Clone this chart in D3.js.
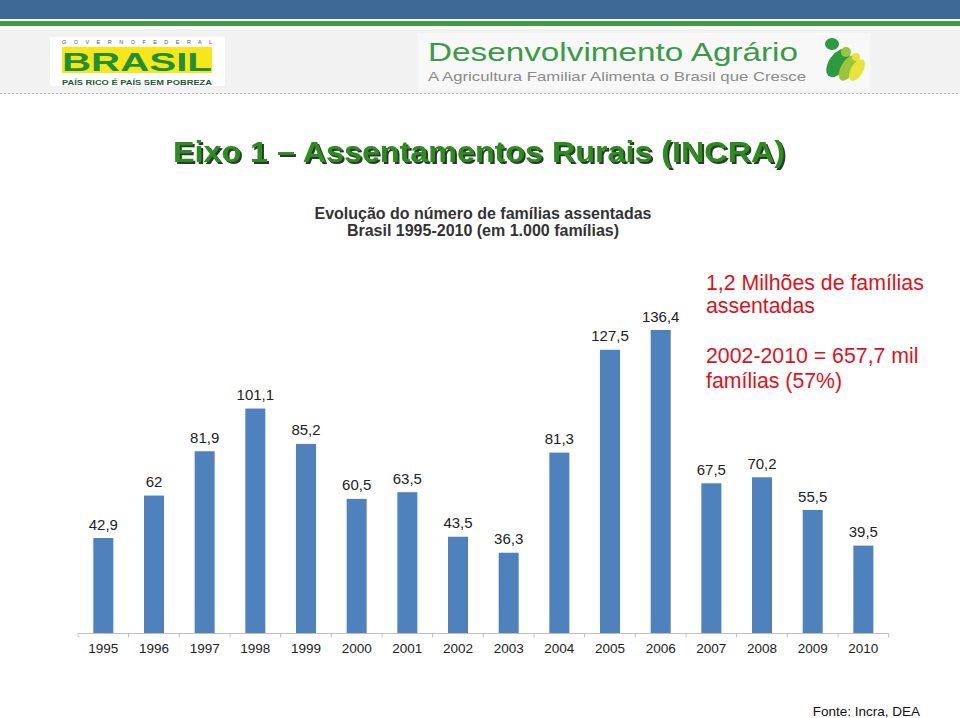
<!DOCTYPE html>
<html><head><meta charset="utf-8">
<script src="https://cdn.jsdelivr.net/npm/d3@7"></script>
<style>html,body{margin:0;padding:0;background:#fff;}svg{display:block;}</style>
</head><body>
<script>
const years = ["1995","1996","1997","1998","1999","2000","2001","2002","2003","2004","2005","2006","2007","2008","2009","2010"];
const values = [42.9,62,81.9,101.1,85.2,60.5,63.5,43.5,36.3,81.3,127.5,136.4,67.5,70.2,55.5,39.5];
const valueLabels = ["42,9","62","81,9","101,1","85,2","60,5","63,5","43,5","36,3","81,3","127,5","136,4","67,5","70,2","55,5","39,5"];
const titleText = "Eixo 1 – Assentamentos Rurais (INCRA)";
const subtitleLines = ["Evolução do número de famílias assentadas","Brasil 1995-2010 (em 1.000 famílias)"];
const noteLines = ["1,2 Milhões de famílias","assentadas","2002-2010 = 657,7 mil","famílias (57%)"];
const sourceText = "Fonte: Incra, DEA";

const W=960,H=718;
const svg=d3.select("body").append("svg").attr("width",W).attr("height",H);
const defs=svg.append("defs");
defs.append("filter").attr("id","sh").attr("x","-5%").attr("y","-20%").attr("width","110%").attr("height","140%")
 .append("feDropShadow").attr("dx",2).attr("dy",2).attr("stdDeviation",0.4).attr("flood-color","#1a2f1a").attr("flood-opacity",0.95);

// header
svg.append("rect").attr("x",0).attr("y",0).attr("width",W).attr("height",19).attr("fill","#3d6795");
svg.append("rect").attr("x",0).attr("y",21).attr("width",W).attr("height",5).attr("fill","#3f9a40");
svg.append("rect").attr("x",0).attr("y",29).attr("width",W).attr("height",64).attr("fill","#f2f2f2");
svg.append("line").attr("x1",0).attr("x2",W).attr("y1",93.5).attr("y2",93.5).attr("stroke","#bbb").attr("stroke-dasharray","2,2");

// left logo
const L=svg.append("g");
L.append("rect").attr("x",50).attr("y",37).attr("width",175).attr("height",49).attr("fill","#fff");
L.append("text").attr("x",62).attr("y",44).attr("font-family","Arial, Liberation Sans").attr("font-size",5.5).attr("fill","#555")
 .attr("textLength",150).attr("lengthAdjust","spacing").text("G O V E R N O     F E D E R A L");
L.append("rect").attr("x",62).attr("y",47).attr("width",150).attr("height",26).attr("fill","#f6e61a");
L.append("text").attr("x",62).attr("y",71).attr("font-family","Liberation Sans, Arial").attr("font-weight","bold").attr("font-size",25)
 .attr("fill","#1f8f3a").attr("textLength",150).attr("lengthAdjust","spacingAndGlyphs").text("BRASIL");
L.append("text").attr("x",62).attr("y",84.5).attr("font-family","Liberation Sans, Arial").attr("font-weight","bold").attr("font-size",7)
 .attr("fill","#1d5a3a").attr("textLength",150).attr("lengthAdjust","spacingAndGlyphs").text("PAÍS RICO É PAÍS SEM POBREZA");

// right logo
const R=svg.append("g");
R.append("rect").attr("x",418).attr("y",33).attr("width",452).attr("height",58).attr("fill","#f8f8f8");
R.append("text").attr("x",428).attr("y",61).attr("font-family","Liberation Sans, Arial").attr("font-size",25).attr("fill","#3a9a48")
 .attr("textLength",370).attr("lengthAdjust","spacingAndGlyphs").text("Desenvolvimento Agrário");
R.append("text").attr("x",428).attr("y",81).attr("font-family","Liberation Sans, Arial").attr("font-size",13).attr("fill","#8a8a8a")
 .attr("textLength",378).attr("lengthAdjust","spacingAndGlyphs").text("A Agricultura Familiar Alimenta o Brasil que Cresce");
R.append("ellipse").attr("cx",832).attr("cy",44).attr("rx",7).attr("ry",6).attr("fill","#2e9a40");
R.append("ellipse").attr("cx",838).attr("cy",63).attr("rx",9).attr("ry",16).attr("transform","rotate(35,838,63)").attr("fill","#2e9a40");
R.append("ellipse").attr("cx",846).attr("cy",52).attr("rx",5).attr("ry",5).attr("fill","#9cc43c");
R.append("ellipse").attr("cx",848).attr("cy",68).attr("rx",7).attr("ry",14).attr("transform","rotate(30,848,68)").attr("fill","#9cc43c");
R.append("ellipse").attr("cx",856).attr("cy",57).attr("rx",4).attr("ry",4).attr("fill","#e8e23a");
R.append("ellipse").attr("cx",857).attr("cy",70).attr("rx",6).attr("ry",12).attr("transform","rotate(30,857,70)").attr("fill","#e8e23a");

// title with shadow
svg.append("text").attr("x",479).attr("y",162).attr("text-anchor","middle")
 .attr("font-family","Liberation Sans, Arial").attr("font-weight","bold").attr("font-size",29)
 .attr("fill","#2e8b22").attr("filter","url(#sh)").attr("textLength",612).attr("lengthAdjust","spacingAndGlyphs").text(titleText);

// subtitle
subtitleLines.forEach((t,i)=>{
  svg.append("text").attr("x",483).attr("y",219+i*17).attr("text-anchor","middle")
   .attr("font-family","Liberation Sans, Arial").attr("font-weight","bold").attr("font-size",16).attr("fill","#333").text(t);
});

// chart
const x=d3.scaleBand().domain(years).range([78,888.7]).paddingInner(0.605).paddingOuter(0.3025);
const y=d3.scaleLinear().domain([0,136.4]).range([633.5,330]);
const g=svg.append("g");
g.selectAll("rect.bar").data(values).join("rect").attr("class","bar")
 .attr("x",(d,i)=>x(years[i])).attr("width",x.bandwidth())
 .attr("y",d=>y(d)).attr("height",d=>y(0)-y(d)).attr("fill","#4f81bd");
g.selectAll("text.val").data(values).join("text").attr("class","val")
 .attr("x",(d,i)=>x(years[i])+x.bandwidth()/2).attr("y",d=>y(d)-8.5).attr("text-anchor","middle")
 .attr("font-family","Liberation Sans, Arial").attr("font-size",15).attr("fill","#222").text((d,i)=>valueLabels[i]);

// axis
const ax=g.append("g").attr("transform","translate(0,633.5)");
ax.append("line").attr("x1",78).attr("x2",888.7).attr("stroke","#bdbdbd");
const step=x.step();
ax.selectAll("line.tk").data(d3.range(17)).join("line").attr("class","tk")
 .attr("x1",i=>78+i*step).attr("x2",i=>78+i*step).attr("y1",0).attr("y2",4).attr("stroke","#bdbdbd");
ax.selectAll("text.yr").data(years).join("text").attr("class","yr")
 .attr("x",d=>x(d)+x.bandwidth()/2).attr("y",19).attr("text-anchor","middle")
 .attr("font-family","Liberation Sans, Arial").attr("font-size",13.5).attr("fill","#222").text(d=>d);

// note
const noteY=[290,313,363,388];
noteLines.forEach((t,i)=>{
  svg.append("text").attr("x",706).attr("y",noteY[i]).attr("font-family","Liberation Sans, Arial").attr("font-size",21.3)
   .attr("fill","#e0101a").text(t);
});

svg.append("text").attr("x",920).attr("y",716).attr("text-anchor","end").attr("font-family","Liberation Sans, Arial")
 .attr("font-size",13.5).attr("fill","#111").text(sourceText);
</script>
</body></html>
